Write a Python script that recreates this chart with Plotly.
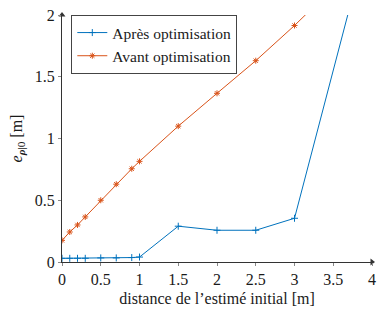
import plotly.graph_objects as go

x_vals = [0, 0.1, 0.2, 0.3, 0.5, 0.7, 0.9, 1.0, 1.5, 2.0, 2.5, 3.0]
apres_x = x_vals + [4.0]
apres_y = [0.03, 0.03, 0.03, 0.03, 0.033, 0.033, 0.036, 0.04, 0.29, 0.257, 0.257, 0.354, 2.75]
avant_x = x_vals + [3.5]
avant_y = [0.175, 0.243, 0.30, 0.365, 0.50, 0.63, 0.755, 0.815, 1.10, 1.366, 1.63, 1.915, 2.22]

x_ticks = [0, 0.5, 1, 1.5, 2, 2.5, 3, 3.5, 4]
x_tick_text = ["0", "0.5", "1", "1.5", "2", "2.5", "3", "3.5", "4"]
y_ticks = [0, 0.5, 1, 1.5, 2]
y_tick_text = ["0", "0.5", "1", "1.5", "2"]

blue = "#0072BD"
orange = "#D95319"
font_family = "'Liberation Serif', 'Times New Roman', Times, serif"
fs = 16

fig = go.Figure()
fig.add_trace(go.Scatter(
    x=apres_x, y=apres_y, mode="lines+markers", name="Après optimisation",
    line=dict(color=blue, width=1),
    marker=dict(symbol="cross-thin", size=5, line=dict(color=blue, width=1)),
))
fig.add_trace(go.Scatter(
    x=avant_x, y=avant_y, mode="lines+markers", name="Avant optimisation",
    line=dict(color=orange, width=1),
    marker=dict(symbol="asterisk", size=5, line=dict(color=orange, width=1)),
))

axis_color = "#333333"
fig.add_trace(go.Scatter(
    x=[4], y=[0], mode="markers", showlegend=False, hoverinfo="skip", cliponaxis=False,
    marker=dict(symbol="triangle-right", size=6, color=axis_color),
))
fig.add_trace(go.Scatter(
    x=[0], y=[2], mode="markers", showlegend=False, hoverinfo="skip", cliponaxis=False,
    marker=dict(symbol="triangle-up", size=6, color=axis_color),
))

fig.update_layout(
    width=381, height=311,
    margin=dict(l=62, r=5, t=15, b=49),
    paper_bgcolor="white", plot_bgcolor="white",
    font=dict(family=font_family, size=fs, color="#1a1a1a"),
    showlegend=True,
    legend=dict(
        x=0.03, y=1.0, xanchor="left", yanchor="top",
        bgcolor="white", bordercolor="#444444", borderwidth=1,
        font=dict(family=font_family, size=15.5, color="#1a1a1a"),
        tracegroupgap=0, itemwidth=30,
    ),
    xaxis=dict(
        range=[0, 4], tickvals=x_ticks, ticktext=x_tick_text,
        showgrid=False, zeroline=False, showline=True, linecolor=axis_color, linewidth=1,
        ticks="outside", ticklen=3, tickcolor="#888888",
        title=dict(text="distance de l’estimé initial [m]", standoff=5,
                   font=dict(family=font_family, size=fs)),
        tickfont=dict(family=font_family, size=fs),
    ),
    yaxis=dict(
        range=[0, 2], tickvals=y_ticks, ticktext=y_tick_text,
        showgrid=False, zeroline=False, showline=True, linecolor=axis_color, linewidth=1,
        ticks="outside", ticklen=3, tickcolor="#888888",
        title=dict(text="<i>e</i><sub><b><i>ρ</i></b>|0</sub> [m]", standoff=8,
                   font=dict(family=font_family, size=fs)),
        tickfont=dict(family=font_family, size=fs),
    ),
)

fig.write_html("out.html")
